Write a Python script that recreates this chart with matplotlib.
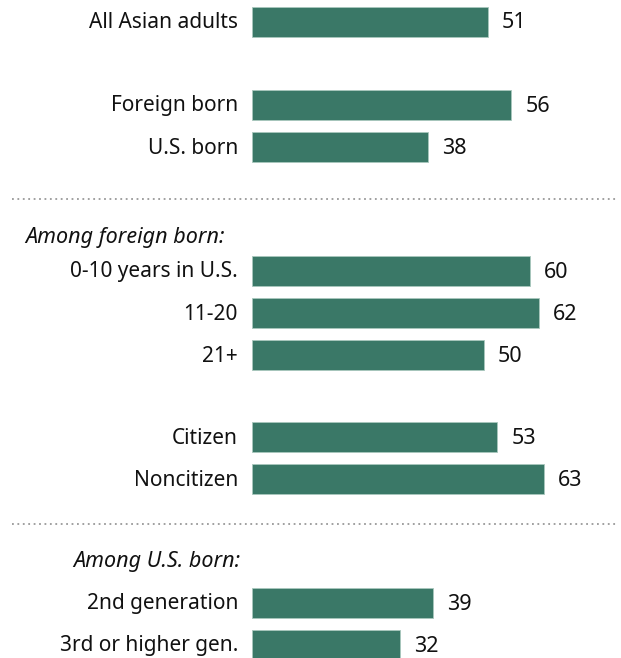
import matplotlib
matplotlib.use("Agg")
import matplotlib.pyplot as plt

categories = ["All Asian adults", "Foreign born", "U.S. born",
              "0-10 years in U.S.", "11-20", "21+",
              "Citizen", "Noncitizen",
              "2nd generation", "3rd or higher gen."]
values = [51, 56, 38, 60, 62, 50, 53, 63, 39, 32]
headers = ["Among foreign born:", "Among U.S. born:"]

# layout (pixel rows)
row_y = [22, 105, 147, 271, 313, 355, 437, 479, 603, 645]
header_y = [237, 561]
sep_y = [199, 524]

W, H = 621, 658
px_per_unit = 4.63
x0 = 252
fig = plt.figure(figsize=(W / 100, H / 100), dpi=100)
ax = fig.add_axes([0, 0, 1, 1])
ax.set_xlim(-x0 / px_per_unit, (W - x0) / px_per_unit)
ax.set_ylim(H, 0)
ax.axis("off")

fam = ['Noto Sans', 'DejaVu Sans']
plt.rcParams['font.family'] = fam
color = "#3a7867"
fs = 15

ax.barh(row_y, values, height=30, left=0, color=color, edgecolor="#a9c7bd", linewidth=0.6)
for y, v, c in zip(row_y, values, categories):
    ax.text(-14 / px_per_unit, y + 1, c, ha="right", va="center", fontsize=fs,
            family=fam, color="#111111")
    ax.text(v + 14 / px_per_unit, y + 1, str(v), ha="left", va="center", fontsize=fs + 0.5,
            family=fam, color="#111111")

ax.text((25 - x0) / px_per_unit, header_y[0] + 1, headers[0], ha="left", va="center",
        fontsize=fs + 0.5, style="italic", family=fam, color="#111111")
ax.text((240 - x0) / px_per_unit, header_y[1] + 1, headers[1], ha="right", va="center",
        fontsize=fs + 0.5, style="italic", family=fam, color="#111111")

for y in sep_y:
    ax.plot([(12 - x0) / px_per_unit, (617 - x0) / px_per_unit], [y, y],
            linestyle=(0, (1, 2)), color="#999999", linewidth=1.3)

fig.savefig("out.png", dpi=100)
